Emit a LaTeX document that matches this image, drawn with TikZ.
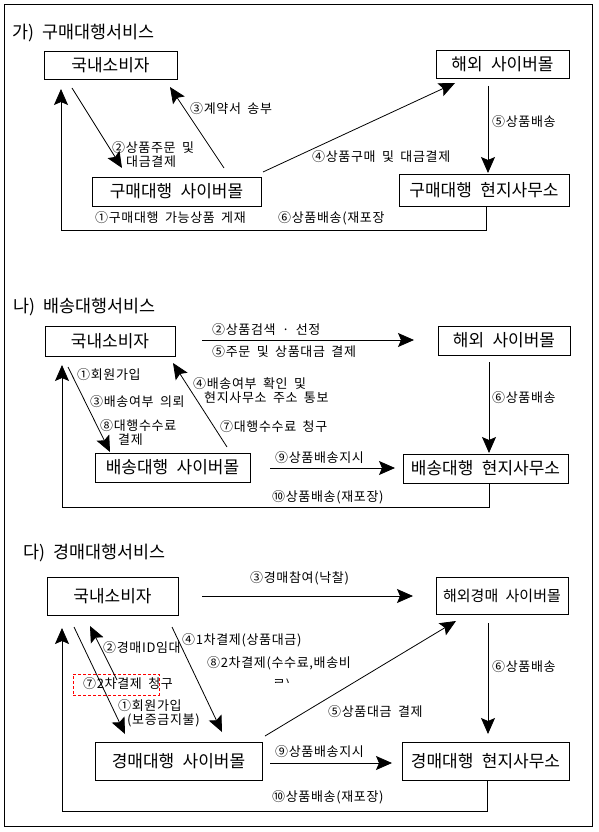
\documentclass[tikz,border=0pt]{standalone}
\usepackage{fontspec}
\setmainfont{Noto Sans CJK KR}[WordSpace=2.2]
\newfontfamily\lblfont{Noto Sans CJK KR}[LetterSpace=5,WordSpace=1.8]
\usetikzlibrary{arrows.meta}
\begin{document}
\begin{tikzpicture}[x=1pt,y=-1pt,
  box/.style={draw,line width=0.8pt,inner sep=0pt,font=\fontsize{17pt}{19pt}\selectfont},
  ttl/.style={anchor=west,inner sep=0pt,font=\fontsize{17.4pt}{19pt}\selectfont},
  lbl/.style={anchor=west,inner sep=0pt,font=\lblfont\fontsize{13pt}{14pt}\selectfont},
  arr/.style={line width=0.8pt,-{Stealth[length=16pt,width=14pt,inset=3pt]}},
  redbox/.style={draw=red,line width=0.8pt,dash pattern=on 3pt off 2pt}]
\useasboundingbox (0,0) rectangle (598,832);
\draw[line width=0.8pt] (4.5,4.5) rectangle (592,826);

% ---------- 가) ----------
\node[ttl] (t1) at (12,33) {가) 구매대행서비스};
\node[box,minimum width=133pt,minimum height=28pt] (A1) at (110.5,65) {국내소비자};
\node[box,minimum width=133pt,minimum height=28pt] (B1) at (502.5,64) {해외 사이버몰};
\node[box,minimum width=169pt,minimum height=29pt] (C1) at (176.5,191.5) {구매대행 사이버몰};
\node[box,minimum width=170pt,minimum height=32pt] (D1) at (484,190) {구매대행 현지사무소};

\node[lbl] (l1a) at (112,148) {②상품주문 및};
\node[lbl] (l1b) at (126,162) {대금결제};
\node[lbl] (l1c) at (190,109) {③계약서 송부};
\node[lbl] (l1d) at (312,157) {④상품구매 및 대금결제};
\node[lbl] (l1e) at (492,122) {⑤상품배송};
\node[lbl] (l1f) at (95,218) {①구매대행 가능상품 게재};
\node[lbl] (l1g) at (278,218) {⑥상품배송(재포장};

\coordinate (a2s) at (72,88);   \coordinate (a2e) at (122,168);
\coordinate (a3s) at (224,168); \coordinate (a3e) at (170,87);
\coordinate (a4s) at (263,172); \coordinate (a4e) at (455,83);
\coordinate (a5s) at (488,86);  \coordinate (a5e) at (488,173);
\coordinate (a1s) at (486,206); \coordinate (a1e) at (61,89);
\draw[arr] (a2s) -- (a2e);
\draw[arr] (a3s) -- (a3e);
\draw[arr] (a4s) -- (a4e);
\draw[arr] (a5s) -- (a5e);
\draw[arr] (a1s) -- ++(0,24) -| (a1e);

% ---------- 나) ----------
\node[ttl] (t2) at (13,307) {나) 배송대행서비스};
\node[box,minimum width=130pt,minimum height=30pt] (A2) at (110,341) {국내소비자};
\node[box,minimum width=132pt,minimum height=29pt] (B2) at (504,340.5) {해외 사이버몰};
\node[box,minimum width=155pt,minimum height=29pt] (C2) at (172.5,467.5) {배송대행 사이버몰};
\node[box,minimum width=165pt,minimum height=29pt] (D2) at (485.5,468.5) {배송대행 현지사무소};

\node[lbl] (l2a) at (212,330) {②상품검색 · 선정};
\node[lbl] (l2b) at (212,352) {⑤주문 및 상품대금 결제};
\node[lbl] (l2c) at (77,375) {①회원가입};
\node[lbl] (l2d) at (90,402) {③배송여부 의뢰};
\node[lbl] (l2e) at (100,426) {⑧대행수수료};
\node[lbl] (l2f) at (118,440) {결제};
\node[lbl] (l2g) at (193,384) {④배송여부 확인 및};
\node[lbl] (l2h) at (204,398) {현지사무소 주소 통보};
\node[lbl] (l2i) at (220,427) {⑦대행수수료 청구};
\node[lbl] (l2j) at (492,398) {⑥상품배송};
\node[lbl] (l2k) at (275,458) {⑨상품배송지시};
\node[lbl] (l2l) at (272,497) {⑩상품배송(재포장)};

\coordinate (b25s) at (202,340); \coordinate (b25e) at (414,340);
\coordinate (b1s) at (68,367);   \coordinate (b1e) at (110,452);
\coordinate (b4s) at (227,447);  \coordinate (b4e) at (173,363);
\coordinate (b6s) at (489,362);  \coordinate (b6e) at (489,453);
\coordinate (b9s) at (270,468);  \coordinate (b9e) at (395,468);
\coordinate (b10s) at (489,483); \coordinate (b10e) at (62,365);
\draw[arr] (b25s) -- (b25e);
\draw[arr] (b1s) -- (b1e);
\draw[arr] (b4s) -- (b4e);
\draw[arr] (b6s) -- (b6e);
\draw[arr] (b9s) -- (b9e);
\draw[arr] (b10s) -- ++(0,24) -| (b10e);

% ---------- 다) ----------
\node[ttl] (t3) at (23,553) {다) 경매대행서비스};
\node[box,minimum width=131pt,minimum height=38pt] (A3) at (112.5,596) {국내소비자};
\node[box,minimum width=132pt,minimum height=37pt,font=\fontsize{15pt}{17pt}\selectfont] (B3) at (502,595.5) {해외경매 사이버몰};
\node[box,minimum width=167pt,minimum height=38pt] (C3) at (178.5,761) {경매대행 사이버몰};
\node[box,minimum width=167pt,minimum height=38pt] (D3) at (485.5,761) {경매대행 현지사무소};

\node[lbl] (l3a) at (250,578) {③경매참여(낙찰)};
\node[lbl] (l3b) at (103,648) {②경매ID임대};
\node[lbl] (l3c) at (182,640) {④1차결제(상품대금)};
\node[lbl] (l3d) at (207,663) {⑧2차결제(수수료,배송비};
\begin{scope}
\clip (270,677) rectangle (300,682);
\node[lbl] (l3e) at (273,685) {료)};
\end{scope}
\node[redbox,minimum width=86pt,minimum height=21pt,inner sep=0pt] (R3) at (116,684.5) {};
\node[lbl] (l3f) at (83,684) {⑦2차결제 청구};
\node[lbl] (l3g) at (118,706) {①회원가입};
\node[lbl] (l3h) at (127,720) {(보증금지불)};
\node[lbl] (l3i) at (328,712) {⑤상품대금 결제};
\node[lbl] (l3j) at (492,667) {⑥상품배송};
\node[lbl] (l3k) at (275,752) {⑨상품배송지시};
\node[lbl] (l3l) at (272,797) {⑩상품배송(재포장)};

\coordinate (c3s) at (202,596);  \coordinate (c3e) at (413,596);
\coordinate (c1s) at (74,627);   \coordinate (c1e) at (125,734);
\coordinate (c2s) at (117,680);  \coordinate (c2e) at (90,626);
\coordinate (c4s) at (172,627);  \coordinate (c4e) at (222,732);
\coordinate (c5s) at (265,736);  \coordinate (c5e) at (456,621);
\coordinate (c6s) at (488,623);  \coordinate (c6e) at (488,734);
\coordinate (c9s) at (270,763);  \coordinate (c9e) at (392,763);
\coordinate (c10s) at (487,780); \coordinate (c10e) at (62,628);
\draw[arr] (c3s) -- (c3e);
\draw[arr] (c1s) -- (c1e);
\draw[arr] (c2s) -- (c2e);
\draw[arr] (c4s) -- (c4e);
\draw[arr] (c5s) -- (c5e);
\draw[arr] (c6s) -- (c6e);
\draw[arr] (c9s) -- (c9e);
\draw[arr] (c10s) -- ++(0,31) -| (c10e);
\end{tikzpicture}
\end{document}
